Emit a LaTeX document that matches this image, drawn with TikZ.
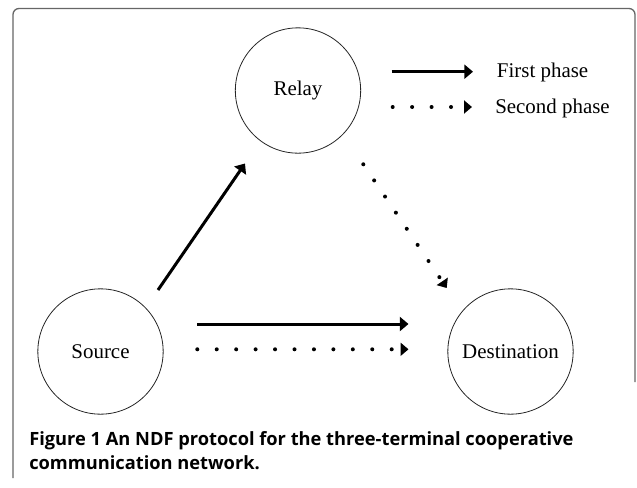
\documentclass[tikz,border=0pt]{standalone}
\usepackage{fontspec}
\setmainfont{Liberation Serif}
\newfontfamily\capfont{Open Sans}
\usetikzlibrary{arrows.meta}
\begin{document}
\begin{tikzpicture}[x=0.75pt,y=-0.75pt,
  station/.style={circle,draw=black!85,line width=0.6pt,minimum size=94pt,inner sep=0pt,font=\fontsize{15.7}{18}\selectfont},
  firstph/.style={line width=2.25pt,-{Triangle[length=6.5pt,width=10.5pt]}},
  secondph/.style={line width=3pt,line cap=round,dash pattern=on 0pt off 14.58pt,-{Triangle[length=6pt,width=9.75pt]}},
  legtext/.style={anchor=base west,inner sep=0pt,font=\fontsize{15.7}{18}\selectfont},
  captext/.style={anchor=base west,inner sep=0pt,font=\capfont\bfseries\fontsize{13.7}{16}\selectfont},
  frame/.style={draw=black!60,line width=1pt,rounded corners=4.5pt}]
\useasboundingbox (0,0) rectangle (637,487);
% frame
\draw[frame] (13,478) -- (13,8.5) -- (635,8.5) -- (635,382);
% stations
\node[station] (relay) at (298,90.5) {Relay};
\node[station] (source) at (100.5,351.5) {Source};
\node[station] (dest) at (510.5,351.5) {Destination};
% first phase
\draw[firstph] ([shift={(57.5,-61.5)}]source.center) -- ([shift={(-53,73)}]relay.center);
\draw[firstph] ([shift={(96.5,-27.5)}]source.center) -- ([shift={(-102,-27.5)}]dest.center);
% second phase
\draw[secondph] ([shift={(96.8,-2.2)}]source.center) -- ([shift={(-102,-2.2)}]dest.center);
\draw[secondph] ([shift={(65.3,73.8)}]relay.center) -- ([shift={(-63.8,-63.5)}]dest.center);
% legend
\node[legtext] (lfirst) at (496.7,77.5) {First phase};
\node[legtext] (lsecond) at (495,113) {Second phase};
\coordinate (la1) at (391.7,71.7);
\coordinate (la2) at (473,71.7);
\coordinate (lb1) at (392.7,107);
\coordinate (lb2) at (472,107);
\draw[firstph] (la1) -- (la2);
\draw[secondph] (lb1) -- (lb2);
% caption
\node[captext] (cap1) at (29,445.5) {Figure 1 An NDF protocol for the three-terminal cooperative};
\node[captext] (cap2) at (29,469.5) {communication network.};
\end{tikzpicture}
\end{document}
